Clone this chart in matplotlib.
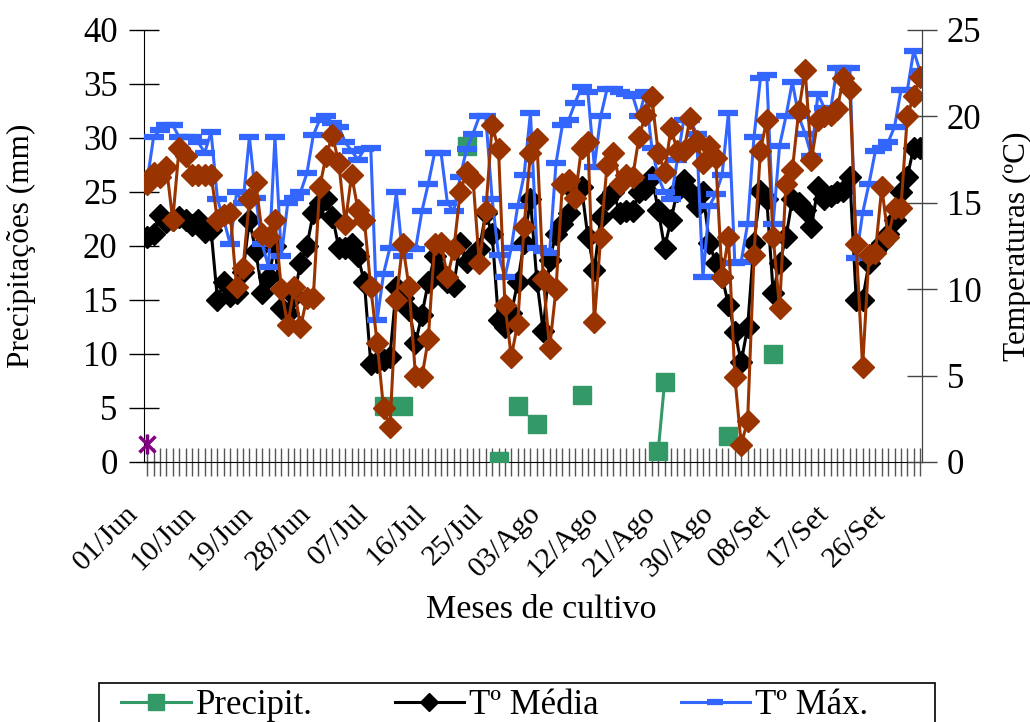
import numpy as np
import matplotlib
matplotlib.use("Agg")
import matplotlib.pyplot as plt
from matplotlib.lines import Line2D
from matplotlib.patches import Rectangle
from matplotlib.transforms import ScaledTranslation

plt.rcParams['font.family'] = ['Liberation Serif', 'DejaVu Serif']

# days counted from 01/Jun
n_days = 122
tick_labels = ["01/Jun", "10/Jun", "19/Jun", "28/Jun", "07/Jul", "16/Jul", "25/Jul",
               "03/Ago", "12/Ago", "21/Ago", "30/Ago", "08/Set", "17/Set", "26/Set"]

# precipitation (mm), only the rainy days
precip_days = [37, 40, 50, 55, 58, 61, 68, 80, 81, 91, 98]
precip_mm = [5.2, 5.2, 29.3, 0.1, 5.2, 3.5, 6.2, 1.0, 7.4, 2.4, 10.0]

# lone purple point on day 0
extra_day = [0]
extra_val = [1.7]

t_media = [13.0, 13.2, 14.3, 13.9, 14.0, 14.2, 14.0, 13.7, 14.0, 13.3,
           13.4, 9.4, 10.4, 9.6, 9.8, 11.0, 14.0, 12.2, 9.8, 10.7,
           12.5, 8.9, 8.6, 9.6, 11.5, 12.5, 14.4, 15.0, 15.2, 14.2,
           12.4, 12.4, 12.6, 11.9, 10.4, 5.7, 5.8, 5.9, 6.1, 10.1,
           9.5, 8.8, 6.9, 8.5, 10.4, 11.9, 11.0, 10.4, 10.2, 12.7,
           11.6, 12.0, 12.3, 14.4, 13.2, 8.2, 7.8, 8.6, 10.4, 12.7,
           15.2, 10.5, 7.6, 11.7, 13.2, 13.8, 14.4, 15.6, 15.9, 13.0,
           11.1, 14.2, 15.2, 15.6, 14.4, 14.5, 14.5, 15.6, 15.8, 16.5,
           14.6, 12.4, 14.0, 15.7, 16.3, 15.6, 14.8, 15.6, 12.7, 11.5,
           10.7, 9.1, 7.5, 5.8, 7.8, 12.7, 15.7, 15.2, 9.8, 11.5,
           13.0, 15.2, 15.0, 14.6, 13.6, 15.9, 15.2, 15.4, 15.6, 15.7,
           16.5, 9.4, 9.4, 11.5, 12.2, 12.7, 13.2, 14.0, 15.6, 16.5,
           18.2, 18.2]

t_max = [16.3, 18.8, 19.2, 19.5, 19.5, 18.8, 18.8, 18.8, 18.5, 17.9,
         19.1, 15.2, 14.0, 12.6, 15.6, 15.0, 18.8, 15.3, 12.6, 11.3,
         18.8, 11.9, 15.0, 15.3, 15.6, 16.7, 18.9, 19.8, 20.0, 19.6,
         19.4, 18.5, 18.0, 17.5, 18.1, 18.2, 8.2, 10.9, 12.4, 15.6,
         11.9, 12.4, 12.3, 14.5, 16.1, 17.9, 17.9, 15.0, 14.5, 16.5,
         18.1, 19.0, 20.0, 20.0, 15.2, 12.0, 10.7, 12.4, 14.8, 16.6,
         20.2, 12.4, 12.2, 12.1, 17.3, 19.5, 19.8, 20.8, 21.7, 21.4,
         17.1, 20.0, 21.6, 21.6, 21.4, 21.3, 21.2, 20.0, 21.4, 18.2,
         16.5, 15.6, 15.2, 17.5, 19.8, 19.8, 19.0, 10.7, 14.8, 15.5,
         16.6, 20.2, 11.5, 11.6, 13.8, 18.8, 22.2, 22.4, 13.8, 18.3,
         20.0, 22.0, 20.0, 19.0, 17.7, 21.3, 20.5, 20.4, 22.8, 22.8,
         22.8, 11.8, 14.4, 16.1, 18.0, 18.2, 18.5, 19.4, 21.5, 21.5,
         23.8, 22.6]

t_min = [16.1, 16.7, 16.5, 17.1, 14.0, 18.2, 17.7, 16.6, 16.6, 16.6,
         16.6, 14.0, 14.3, 14.4, 10.1, 11.2, 15.2, 16.2, 13.2, 13.0,
         14.0, 10.0, 7.9, 10.1, 7.8, 9.5, 9.5, 15.9, 17.7, 18.9,
         17.3, 13.8, 16.6, 14.6, 14.0, 10.1, 6.9, 3.1, 2.0, 9.4,
         12.6, 10.1, 5.0, 4.9, 7.1, 12.6, 12.7, 10.7, 12.3, 15.6,
         16.8, 16.4, 11.5, 14.5, 19.5, 18.1, 9.1, 6.1, 8.0, 13.6,
         17.9, 18.7, 10.6, 6.6, 10.0, 16.1, 16.3, 15.3, 18.2, 18.5,
         8.1, 13.0, 17.2, 17.9, 16.1, 16.6, 16.5, 18.8, 20.1, 21.1,
         17.9, 16.8, 19.3, 18.0, 18.0, 19.9, 18.6, 17.3, 18.3, 17.6,
         10.7, 13.0, 4.9, 1.0, 2.4, 12.0, 18.0, 19.8, 13.0, 8.9,
         16.1, 16.9, 20.3, 22.7, 17.5, 19.8, 20.0, 20.1, 20.4, 22.2,
         21.6, 12.6, 5.5, 12.0, 12.1, 15.9, 13.0, 14.7, 14.7, 20.0,
         21.2, 22.3]

days = np.arange(n_days)
precip = np.full(n_days, np.nan)
precip[precip_days] = precip_mm
label_days = np.arange(0, n_days, 9)

green = '#339966'
blue = '#3366FF'
brown = '#993300'
purple = '#800080'

fig = plt.figure(figsize=(10.3, 7.22), dpi=100)
ax = fig.add_axes([144/1030, 1-462/722, (922-144)/1030, (462-30)/722])
ax2 = ax.twinx()

ax.plot(days, precip, color=green, lw=2.2, marker='s', ms=13, zorder=3)
ax.plot(extra_day, extra_val, color=purple, marker='x', ms=11, mew=2.5, ls='none',
        zorder=4, clip_on=False)
ax.plot(extra_day, extra_val, color=purple, marker='|', ms=14, mew=2.5, ls='none',
        zorder=4, clip_on=False)

ax2.plot(days, t_media, color='black', lw=2.2, marker='D', ms=11)
ax2.plot(days, t_max, color=blue, lw=2.2, marker='_', ms=15, mew=4.5)
ax2.plot(days, t_min, color=brown, lw=2.2, marker='D', ms=11, mfc=brown, mec=brown)

ax.set_xlim(-0.5, 121.3)
ax.set_ylim(0, 40)
ax2.set_ylim(0, 25)
ax.set_yticks(range(0, 41, 5))
ax2.set_yticks(range(0, 26, 5))
ax.set_xticks(label_days)
ax.set_xticks(days, minor=True)

# date labels, slanted, sitting a little left of their tick
lab_tr = ax.get_xaxis_transform() + ScaledTranslation(-0.13, -0.475, fig.dpi_scale_trans)
for d, txt in zip(label_days, tick_labels):
    ax.text(d, 0, txt, transform=lab_tr, rotation=45, ha='right', va='center',
            rotation_mode='anchor', fontsize=21.5)

for a in (ax, ax2):
    a.spines['top'].set_visible(False)
ax2.spines['left'].set_visible(False)
ax2.spines['bottom'].set_visible(False)
ax2.spines['right'].set_color('#444444')

ax.tick_params(axis='y', direction='inout', length=22, width=1, labelsize=25, pad=8)
ax2.tick_params(axis='y', direction='inout', length=22, width=1, labelsize=25, pad=7,
                color='#444444', labelcolor='black')
ax.tick_params(axis='x', which='both', direction='inout', length=20, width=1,
               color='#555555', labelbottom=False)

ax.set_ylabel("Precipitações (mm)", fontsize=22.5, labelpad=34)
ax2.set_ylabel("Temperaturas (ºC)", fontsize=22.5, labelpad=15)
ax.set_xlabel("Meses de cultivo", fontsize=24.5)
ax.xaxis.set_label_coords((541-144)/778, (462-594)/432)

# legend box, cut by the bottom edge as in the original
fig.patches.append(Rectangle((99/1030, -0.05), (935-99)/1030, 1-683/722+0.05,
                             transform=fig.transFigure, fill=False,
                             edgecolor='black', lw=1.2))
handles = [
    Line2D([], [], color=green, lw=2.2, marker='s', ms=12),
    Line2D([], [], color='black', lw=2.2, marker='D', ms=9),
    Line2D([], [], color=blue, lw=2.2, marker='_', ms=11, mew=4.5),
]
fig.legend(handles, ["Precipit.", "Tº Média", "Tº Máx."], ncol=3,
           loc='upper left', bbox_to_anchor=(118/1030, 1-686/722, (872-118)/1030, 0),
           mode='expand', fontsize=25, frameon=False, handlelength=2.0,
           handletextpad=0.15, borderpad=0.1, borderaxespad=0)

fig.savefig("out.png", dpi=100)
